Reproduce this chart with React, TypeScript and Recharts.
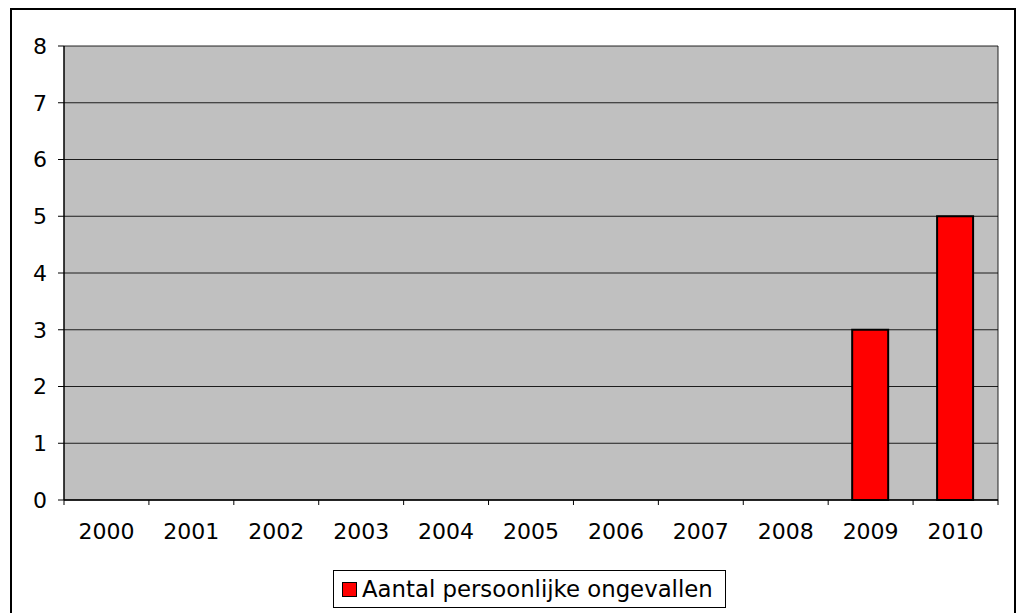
import { Bar, BarChart, CartesianGrid, Legend, XAxis, YAxis } from "recharts"

const years = ["2000", "2001", "2002", "2003", "2004", "2005", "2006", "2007", "2008", "2009", "2010"]
const accidents = [0, 0, 0, 0, 0, 0, 0, 0, 0, 3, 5]
const yTicks = [0, 1, 2, 3, 4, 5, 6, 7, 8]
const seriesName = "Aantal persoonlijke ongevallen"

const data = years.map((year, i) => ({ year, value: accidents[i] }))

const font = "'DejaVu Sans', Verdana, sans-serif"

// x tick: label at the center, tick line at the category boundary
function YearTick(props: any) {
  const { x, y, payload, index, visibleTicksCount } = props
  const half = payload.offset ?? 0
  const last = index === visibleTicksCount - 1
  return (
    <g>
      <line x1={x - half} x2={x - half} y1={y - 14} y2={y - 9} stroke="#000" strokeWidth={1} />
      {last && <line x1={x + half} x2={x + half} y1={y - 14} y2={y - 9} stroke="#000" strokeWidth={1} />}
      <text x={x} y={y + 25} textAnchor="middle" fontSize={22} fontFamily={font} fill="#000">
        {payload.value}
      </text>
    </g>
  )
}

function LegendBox() {
  return (
    <div
      style={{
        border: "1px solid #000",
        width: 391,
        height: 36,
        boxSizing: "content-box",
        display: "flex",
        alignItems: "center",
        fontFamily: font,
        fontSize: 22.8,
        color: "#000",
        background: "#fff",
        whiteSpace: "nowrap",
      }}
    >
      <span
        style={{
          display: "inline-block",
          width: 13,
          height: 13,
          background: "#ff0000",
          border: "1.5px solid #000",
          marginLeft: 8,
          marginRight: 5,
        }}
      />
      <span>{seriesName}</span>
    </div>
  )
}

export default function App() {
  return (
    <div style={{ position: "absolute", left: 0, top: 0, width: 1019, height: 613, background: "#fff", overflow: "hidden" }}>
      <div
        style={{
          position: "absolute",
          left: 10,
          top: 8,
          width: 1006,
          height: 640,
          border: "2px solid #000",
          boxSizing: "border-box",
        }}
      />
      <div style={{ position: "absolute", left: 0, top: 0 }}>
        <BarChart width={1019} height={613} data={data} margin={{ top: 46, right: 21, left: 0, bottom: 0 }}>
          <CartesianGrid
            fill="#c0c0c0"
            fillOpacity={1}
            stroke="#000"
            strokeOpacity={0.85}
            horizontal={true}
            vertical={true}
            verticalCoordinatesGenerator={({ offset }: any) => [offset.left + offset.width]}
          />
          <XAxis
            dataKey="year"
            height={113}
            interval={0}
            tickLine={false}
            axisLine={{ stroke: "#000", strokeWidth: 1.5 }}
            tick={<YearTick />}
            tickSize={0}
            tickMargin={14}
          />
          <YAxis
            domain={[0, 8]}
            ticks={yTicks}
            width={64}
            interval={0}
            tickSize={6}
            tickMargin={11}
            axisLine={{ stroke: "#000", strokeWidth: 1.5 }}
            tickLine={{ stroke: "#000" }}
            tick={{ fontSize: 22, fontFamily: font, fill: "#000" }}
          />
          <Legend
            layout="vertical"
            verticalAlign="middle"
            align="center"
            content={() => <LegendBox />}
            wrapperStyle={{ left: 333, top: 570, width: 393, height: 38 }}
          />
          <Bar
            dataKey="value"
            name={seriesName}
            fill="#ff0000"
            stroke="#000"
            strokeWidth={2}
            barSize={36}
            isAnimationActive={false}
          />
        </BarChart>
      </div>
    </div>
  )
}
